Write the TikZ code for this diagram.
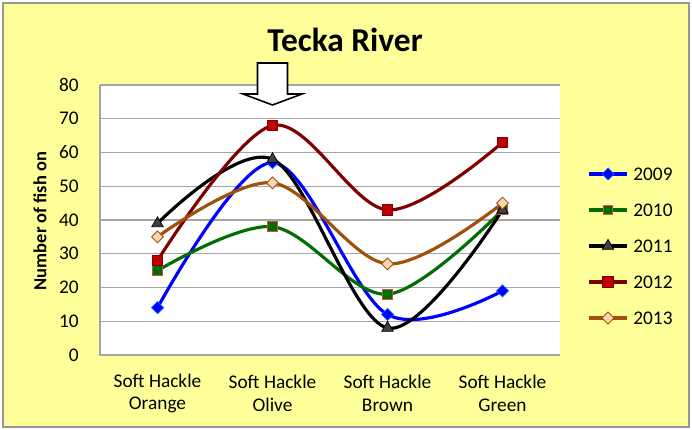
\documentclass[tikz,border=0pt]{standalone}
\usepackage{fontspec}
\setmainfont{Carlito}
\definecolor{chartyellow}{RGB}{255, 255, 153}
\definecolor{framegray}{RGB}{150, 150, 150}
\definecolor{gridgray}{RGB}{165, 165, 165}
\definecolor{blue09}{RGB}{0, 0, 255}
\definecolor{green10}{RGB}{0, 110, 0}
\definecolor{red12}{RGB}{128, 0, 0}
\definecolor{redfill}{RGB}{192, 0, 0}
\definecolor{brown13}{RGB}{160, 80, 10}
\definecolor{peach}{RGB}{252, 213, 180}
\usetikzlibrary{shapes, arrows.meta, positioning, calc}

\tikzset{
  serie/.style={line width=1.8pt},
  mkblue/.style={diamond, draw=blue09!60!cyan, fill=blue09, inner sep=0pt, minimum size=7pt, line width=0.4pt},
  mkgreen/.style={rectangle, draw=redfill!70!white, fill=green10, inner sep=0pt, minimum size=5.5pt, line width=0.5pt},
  mkblack/.style={regular polygon, regular polygon sides=3, draw=black, fill=black!75, inner sep=0pt, minimum size=7.5pt, line width=0.4pt},
  mkred/.style={rectangle, draw=red12, fill=redfill, inner sep=0pt, minimum size=6pt, line width=0.5pt},
  mkbrown/.style={diamond, draw=brown13, fill=peach, inner sep=0pt, minimum size=7pt, line width=0.5pt},
  axislabel/.style={font=\fontsize{11}{13}\selectfont, inner sep=0pt},
}

\begin{document}
\begin{tikzpicture}
  \useasboundingbox (0,0) rectangle (13.84,8.58);
  \draw[framegray, fill=chartyellow, line width=0.8pt] (0.06,0.04) rectangle (13.78,8.52);

  \node[font=\fontsize{19}{22}\selectfont\bfseries] (title) at (6.9,7.78) {Tecka River};

  % plot area, in data units
  \begin{scope}[shift={(2.0,1.48)}, x=2.3cm, y=0.0675cm]
    \fill[white] (0,0) rectangle (4,80);
    \foreach \v in {10,20,...,80}
      \draw[gridgray, line width=0.8pt] (0,\v) -- (4,\v);
    \draw[gridgray, line width=1pt] (0,80) -- (0,0) -- (4,0);
    \foreach \v in {0,10,...,80}
      \node[axislabel, anchor=east, xshift=-0.42cm] (tick\v) at (0,\v) {\v};
    \node[axislabel, align=center, yshift=-0.77cm] (catA) at (0.5,0) {Soft Hackle\\Orange};
    \node[axislabel, align=center, yshift=-0.77cm] (catB) at (1.5,0) {Soft Hackle\\Olive};
    \node[axislabel, align=center, yshift=-0.77cm] (catC) at (2.5,0) {Soft Hackle\\Brown};
    \node[axislabel, align=center, yshift=-0.77cm] (catD) at (3.5,0) {Soft Hackle\\Green};

    % series
    \draw[serie, blue09] plot[smooth, tension=0.55] coordinates {(0.5,14) (1.5,57) (2.5,12) (3.5,19)};
    \draw[serie, green10] plot[smooth, tension=0.55] coordinates {(0.5,25) (1.5,38) (2.5,18) (3.5,43)};
    \draw[serie, black] plot[smooth, tension=0.55] coordinates {(0.5,39) (1.5,58) (2.5,8) (3.5,43)};
    \draw[serie, red12] plot[smooth, tension=0.55] coordinates {(0.5,28) (1.5,68) (2.5,43) (3.5,63)};
    \draw[serie, brown13] plot[smooth, tension=0.55] coordinates {(0.5,35) (1.5,51) (2.5,27) (3.5,45)};

    \foreach \xv/\yv [count=\i] in {0.5/14, 1.5/57, 2.5/12, 3.5/19}
      \node[mkblue] (a\i) at (\xv,\yv) {};
    \foreach \xv/\yv [count=\i] in {0.5/25, 1.5/38, 2.5/18, 3.5/43}
      \node[mkgreen] (b\i) at (\xv,\yv) {};
    \foreach \xv/\yv [count=\i] in {0.5/39, 1.5/58, 2.5/8, 3.5/43}
      \node[mkblack] (c\i) at (\xv,\yv) {};
    \foreach \xv/\yv [count=\i] in {0.5/28, 1.5/68, 2.5/43, 3.5/63}
      \node[mkred] (d\i) at (\xv,\yv) {};
    \foreach \xv/\yv [count=\i] in {0.5/35, 1.5/51, 2.5/27, 3.5/45}
      \node[mkbrown] (e\i) at (\xv,\yv) {};
  \end{scope}

  \node[axislabel, font=\fontsize{10.5}{12}\selectfont\bfseries, rotate=90] (ytitle) at (0.8,4.16) {Number of fish on};

  % arrow over the olive column
  \draw[fill=white, line width=0.9pt] (5.15,7.32) -- (5.75,7.32) -- (5.75,6.70) -- (6.04,6.70)
    -- (5.45,6.48) -- (4.86,6.70) -- (5.15,6.70) -- cycle;

  % legend
  \coordinate (lg09) at (12.16,5.10);
  \coordinate (lg10) at (12.16,4.38);
  \coordinate (lg11) at (12.16,3.66);
  \coordinate (lg12) at (12.16,2.94);
  \coordinate (lg13) at (12.16,2.22);
  \draw[serie, blue09] ([xshift=-0.38cm]lg09) -- ([xshift=0.38cm]lg09);
  \draw[serie, green10] ([xshift=-0.38cm]lg10) -- ([xshift=0.38cm]lg10);
  \draw[serie, black] ([xshift=-0.38cm]lg11) -- ([xshift=0.38cm]lg11);
  \draw[serie, red12] ([xshift=-0.38cm]lg12) -- ([xshift=0.38cm]lg12);
  \draw[serie, brown13] ([xshift=-0.38cm]lg13) -- ([xshift=0.38cm]lg13);
  \node[mkblue] (m09) at (lg09) {};
  \node[mkgreen] (m10) at (lg10) {};
  \node[mkblack] (m11) at (lg11) {};
  \node[mkred] (m12) at (lg12) {};
  \node[mkbrown] (m13) at (lg13) {};
  \node[axislabel, anchor=west] (t09) at ([xshift=0.5cm]lg09) {2009};
  \node[axislabel, anchor=west] (t10) at ([xshift=0.5cm]lg10) {2010};
  \node[axislabel, anchor=west] (t11) at ([xshift=0.5cm]lg11) {2011};
  \node[axislabel, anchor=west] (t12) at ([xshift=0.5cm]lg12) {2012};
  \node[axislabel, anchor=west] (t13) at ([xshift=0.5cm]lg13) {2013};
\end{tikzpicture}
\end{document}
